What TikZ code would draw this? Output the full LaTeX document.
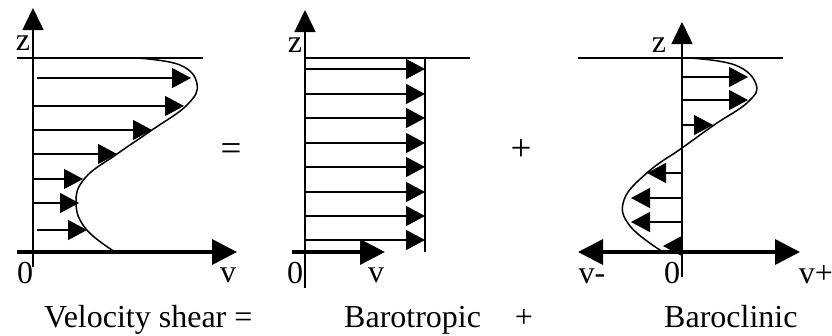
\documentclass[tikz,border=0pt]{standalone}
\usepackage{fontspec}
\setmainfont{Liberation Serif}
\usetikzlibrary{arrows.meta}
\begin{document}
\begin{tikzpicture}[x=1pt,y=-1pt,
  vel/.style={line width=1.3pt,-{Triangle[length=19pt,width=20pt]}},
  velaxis/.style={line width=3.5pt,-{Triangle[length=25pt,width=25pt]}},
  zaxis/.style={line width=1.6pt,-{Triangle[length=22pt,width=21pt]}},
  thin/.style={line width=1.3pt},
  prof/.style={line width=1.5pt},
  lbl/.style={inner sep=0pt,font=\fontsize{32}{38}\selectfont},
  sym/.style={inner sep=0pt,font=\fontsize{37}{44}\selectfont}]
\useasboundingbox[fill=white] (0,0) rectangle (832,335);

% ---------- panel 1 ----------
\draw[zaxis] (33,267) -- (33,8);
\draw[thin] (17,58) -- (203,58);
\draw[velaxis] (17,252) -- (237,252);
\draw[prof] plot[smooth,tension=0.7] coordinates {(137,58) (180,65) (197,84) (187,105) (152,130) (117,154) (85,178) (76,203) (86,229) (115,252)};
\draw[vel] (37,78) -- (191,78);
\draw[vel] (33,106) -- (184,106);
\draw[vel] (33,130) -- (152,130);
\draw[vel] (33,154) -- (117,154);
\draw[vel] (33,179) -- (83,179);
\draw[vel] (33,203) -- (79,203);
\draw[vel] (37,230) -- (87,230);
\node[lbl,anchor=base] (z1) at (23,50) {z};
\node[lbl,anchor=base] (o1) at (25,283) {0};
\node[lbl,anchor=base] (v1) at (228,282) {v};

\node[sym] (eq) at (231,152) {=};

% ---------- panel 2 ----------
\draw[zaxis] (305,288) -- (305,10);
\draw[thin] (305,58) -- (470,58);
\draw[thin] (425,58) -- (425,252);
\draw[velaxis] (292,252) -- (385,252);
\foreach \yy in {69,94,118,143,167,192,216,240}
  \draw[vel] (305,\yy) -- (425,\yy);
\node[lbl,anchor=base] (z2) at (295,52) {z};
\node[lbl,anchor=base] (o2) at (295,283) {0};
\node[lbl,anchor=base] (v2) at (376,282) {v};

\node[sym] (pl) at (521,150) {+};

% ---------- panel 3 ----------
\draw[zaxis] (682,277) -- (682,22);
\draw[thin] (578,58) -- (783,58);
\draw[line width=3.5pt,{Triangle[length=25pt,width=25pt]}-{Triangle[length=25pt,width=25pt]}] (578,252) -- (800,252);
\draw[prof] plot[smooth,tension=0.7] coordinates {(690,58) (735,65) (756,84) (748,102) (714,125) (682,148) (648,172) (624,200) (630,226) (663,252)};
\draw[vel] (682,77) -- (748,77);
\draw[vel] (682,100) -- (748,100);
\draw[vel] (682,125) -- (713,125);
\draw[vel] (682,173) -- (647,173);
\draw[vel] (682,198) -- (631,198);
\draw[vel] (682,222) -- (631,222);
\draw[vel] (682,246) -- (663,246);
\node[lbl,anchor=base] (z3) at (659,52) {z};
\node[lbl,anchor=base] (vm) at (592,283) {v-};
\node[lbl,anchor=base] (o3) at (672,283) {0};
\node[lbl,anchor=base] (vp) at (816,283) {v+};

% ---------- captions ----------
\node[lbl,anchor=base west] (c1) at (44,327) {Velocity shear =};
\node[lbl,anchor=base west] (c2) at (344,327) {Barotropic};
\node[lbl,anchor=base] (c3) at (524,327) {+};
\node[lbl,anchor=base west] (c4) at (664,327) {Baroclinic};
\end{tikzpicture}
\end{document}
